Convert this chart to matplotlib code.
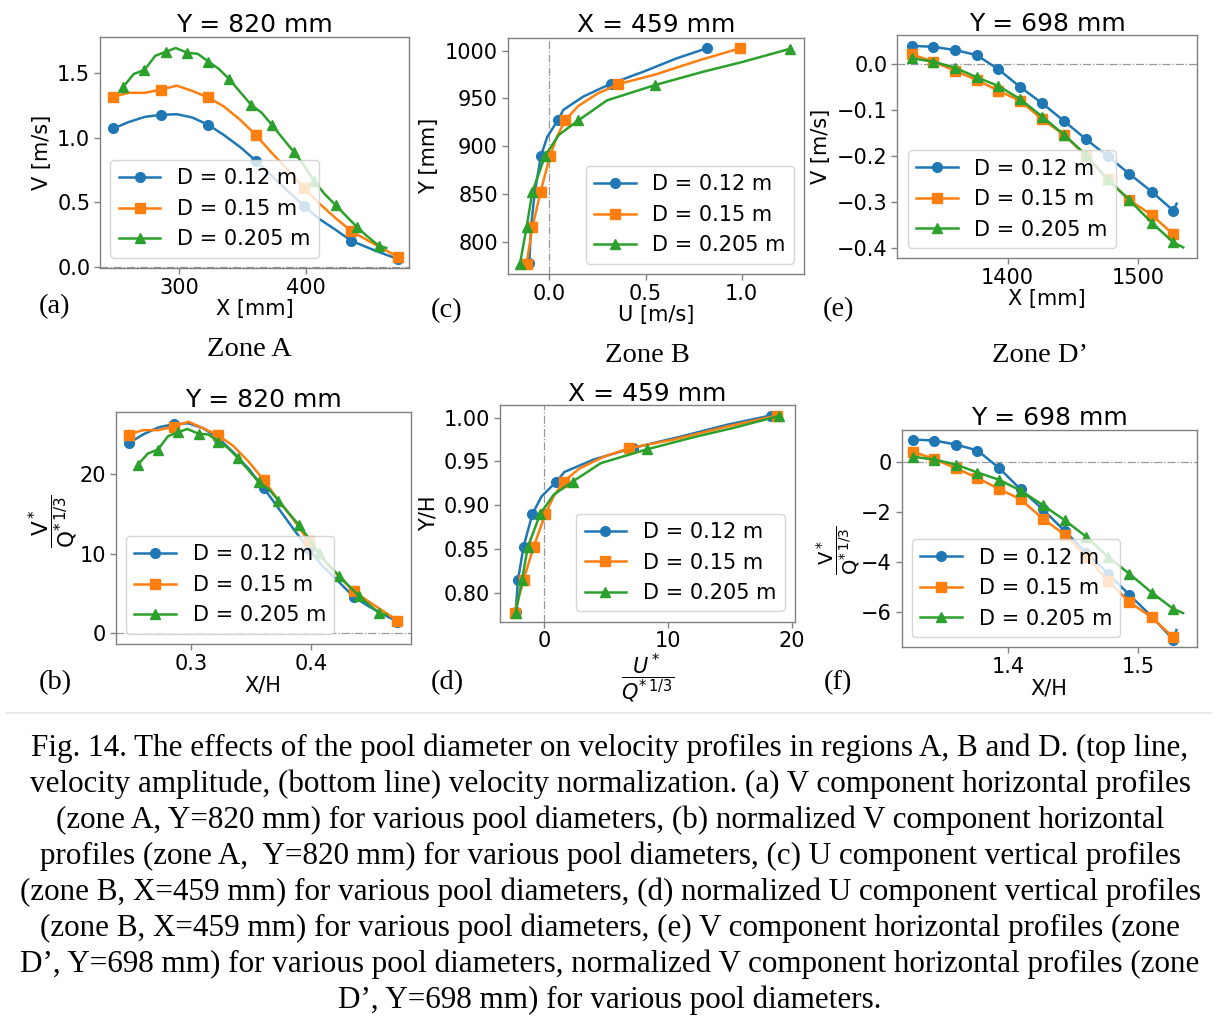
import matplotlib
matplotlib.use('Agg')
import matplotlib.pyplot as plt
from matplotlib.ticker import MultipleLocator, FuncFormatter

# ---------------- data ----------------
LABELS = ['D = 0.12 m', 'D = 0.15 m', 'D = 0.205 m']

# (a) V [m/s] vs X [mm], Y = 820 mm
A_X_BO = [248, 260, 273, 285.5, 298, 310, 322.5, 335, 348, 360.5, 373, 385, 398, 410, 423, 435.5, 448, 460, 472]
A_V_BLUE = [1.07, 1.12, 1.16, 1.175, 1.18, 1.155, 1.10, 1.02, 0.926, 0.82, 0.704, 0.592, 0.475, 0.375, 0.29, 0.205, 0.154, 0.108, 0.065]
A_V_ORANGE = [1.315, 1.345, 1.345, 1.37, 1.40, 1.36, 1.31, 1.24, 1.136, 1.018, 0.88, 0.757, 0.611, 0.495, 0.38, 0.28, 0.21, 0.146, 0.082]
A_BO_MARK = [0, 3, 6, 9, 12, 15, 18]
A_X_GREEN = [255.8, 264, 272.4, 281, 289.5, 297, 306.3, 314.5, 322.9, 331, 339.4, 348, 356.6, 365,
             372.9, 381, 390.0, 398, 406.3, 415, 423.4, 432, 440.0, 448, 457.1, 463]
A_V_GREEN = [1.392, 1.49, 1.521, 1.63, 1.662, 1.69, 1.654, 1.645, 1.585, 1.53, 1.449, 1.35, 1.252, 1.19,
             1.098, 1.0, 0.892, 0.79, 0.662, 0.56, 0.477, 0.39, 0.311, 0.24, 0.167, 0.15]
A_G_MARK = [0, 2, 4, 6, 8, 10, 12, 14, 16, 18, 20, 22, 24]

# (b) normalized V vs X/H
B_X_BO = [0.248, 0.260, 0.273, 0.2855, 0.298, 0.310, 0.3225, 0.335, 0.348, 0.3605, 0.373, 0.385, 0.398,
          0.410, 0.423, 0.4355, 0.448, 0.460, 0.472]
B_V_BLUE = [23.9, 25.0, 25.9, 26.3, 26.4, 25.8, 24.6, 22.8, 20.7, 18.3, 15.7, 13.2, 10.6, 8.4, 6.5, 4.6, 3.4, 2.4, 1.45]
B_V_ORANGE = [25.0, 25.55, 25.55, 26.0, 26.6, 25.8, 24.9, 23.6, 21.6, 19.3, 16.7, 14.4, 11.6, 9.4, 7.2, 5.3, 4.0, 2.8, 1.6]
B_X_GREEN = [0.2558, 0.264, 0.2724, 0.281, 0.2895, 0.297, 0.3063, 0.3145, 0.3229, 0.331, 0.3394, 0.348,
             0.3566, 0.365, 0.3729, 0.381, 0.390, 0.398, 0.4063, 0.415, 0.4234, 0.432, 0.440, 0.448, 0.4571, 0.463]
B_V_GREEN = [21.2, 22.6, 23.1, 24.8, 25.3, 25.7, 25.1, 25.0, 24.1, 23.3, 22.0, 20.5, 19.0, 18.1,
             16.7, 15.2, 13.6, 12.0, 10.1, 8.5, 7.25, 5.9, 4.7, 3.65, 2.5, 2.3]

# (c) Y [mm] vs U [m/s], X = 459 mm
C_U_BLUE = [-0.104, -0.095, -0.075, -0.043, -0.01, 0.044, 0.073, 0.177, 0.321, 0.489, 0.662, 0.818]
C_Y_BLUE = [777.5, 815, 852.5, 890, 910, 927, 938, 952, 965.5, 978, 992, 1002.5]
C_U_ORANGE = [-0.118, -0.088, -0.045, 0.004, 0.04, 0.082, 0.15, 0.25, 0.359, 0.55, 0.78, 0.991]
C_Y_ORANGE = [777, 815, 852.5, 890, 910, 927, 942, 955, 965, 975, 990, 1002.5]
C_U_GREEN = [-0.152, -0.118, -0.088, -0.022, 0.05, 0.151, 0.3, 0.549, 0.8, 1.0, 1.251]
C_Y_GREEN = [777, 815, 852, 890, 912, 927, 948, 964, 978, 988, 1002]
C_BO_MARK = [0, 1, 2, 3, 5, 8, 11]
C_G_MARK = [0, 1, 2, 3, 5, 7, 10]

# (d) Y/H vs normalized U
D_U_BLUE = [-2.32, -2.12, -1.68, -0.96, -0.22, 0.98, 1.63, 3.96, 7.17, 10.93, 14.8, 18.3]
D_Y_BLUE = [0.7775, 0.815, 0.8525, 0.890, 0.910, 0.927, 0.938, 0.952, 0.9655, 0.978, 0.992, 1.0025]
D_U_ORANGE = [-2.4, -1.67, -0.86, 0.08, 0.76, 1.56, 2.85, 4.75, 6.82, 10.45, 14.8, 18.83]
D_Y_ORANGE = [0.777, 0.815, 0.8525, 0.890, 0.910, 0.927, 0.942, 0.955, 0.965, 0.975, 0.990, 1.0025]
D_U_GREEN = [-2.31, -1.79, -1.34, -0.33, 0.76, 2.30, 4.56, 8.34, 12.16, 15.2, 19.0]
D_Y_GREEN = [0.777, 0.815, 0.852, 0.890, 0.912, 0.927, 0.948, 0.964, 0.978, 0.988, 1.002]

# (e) V [m/s] vs X [mm], Y = 698 mm
E_X = [1326.5, 1343.0, 1359.7, 1376.3, 1392.9, 1409.4, 1426.5, 1443.4, 1460.0, 1476.6, 1493.1, 1510.3, 1526.8]
E_X_BLUE = E_X + [1529.3]
E_V_BLUE = [0.040, 0.038, 0.031, 0.020, -0.011, -0.049, -0.085, -0.124, -0.163, -0.200, -0.238, -0.277, -0.318, -0.303]
E_V_ORANGE = [0.0217, 0.0057, -0.0139, -0.0341, -0.0574, -0.0791, -0.1196, -0.1537, -0.1993, -0.25, -0.295, -0.3276, -0.3696]
E_X_GREEN = E_X + [1534.4]
E_V_GREEN = [0.013, 0.0057, -0.0074, -0.0283, -0.0472, -0.0754, -0.1139, -0.1537, -0.1972, -0.25, -0.295, -0.3443, -0.387, -0.398]
E_MARK = list(range(13))

# (f) normalized V vs X/H
F_X = [1.3265, 1.3430, 1.3597, 1.3763, 1.3929, 1.4094, 1.4265, 1.4434, 1.4600, 1.4766, 1.4931, 1.5103, 1.5268]
F_X_BLUE = F_X + [1.5293]
F_V_BLUE = [0.89, 0.85, 0.69, 0.45, -0.25, -1.10, -1.90, -2.77, -3.64, -4.47, -5.32, -6.19, -7.11, -6.73]
F_V_ORANGE = [0.41, 0.11, -0.26, -0.65, -1.09, -1.50, -2.27, -2.92, -3.79, -4.75, -5.61, -6.22, -7.02]
F_X_GREEN = F_X + [1.5344]
F_V_GREEN = [0.20, 0.09, -0.11, -0.43, -0.72, -1.15, -1.73, -2.34, -3.0, -3.8, -4.48, -5.23, -5.88, -6.05]

CAPTION = [
    "Fig. 14. The effects of the pool diameter on velocity profiles in regions A, B and D. (top line,",
    "velocity amplitude, (bottom line) velocity normalization. (a) V component horizontal profiles",
    "(zone A, Y=820 mm) for various pool diameters, (b) normalized V component horizontal",
    "profiles (zone A,  Y=820 mm) for various pool diameters, (c) U component vertical profiles",
    "(zone B, X=459 mm) for various pool diameters, (d) normalized U component vertical profiles",
    "(zone B, X=459 mm) for various pool diameters, (e) V component horizontal profiles (zone",
    "D\u2019, Y=698 mm) for various pool diameters, normalized V component horizontal profiles (zone",
    "D\u2019, Y=698 mm) for various pool diameters.",
]

# ---------------- figure ----------------
W, H = 1217, 1026
fig = plt.figure(figsize=(W / 100, H / 100), dpi=100)
BLUE, ORANGE, GREEN = '#1f77b4', '#ff7f0e', '#2ca02c'
FS = 15
SERIF = 'Liberation Serif'


def fmt(spec):
    return FuncFormatter(lambda v, p: (spec % v).replace('-', '\u2212') if abs(v) > 1e-9 else spec % 0)


def add_ax(l, t, r, b):
    ax = fig.add_axes([l / W, 1 - b / H, (r - l) / W, (b - t) / H])
    for sp in ax.spines.values():
        sp.set_color('#808080')
        sp.set_linewidth(1.0)
    ax.tick_params(labelsize=FS, length=4, width=1, color='#808080', pad=3)
    return ax


def series(ax, x, y, color, marker, mark, label, ms):
    ax.plot(x, y, color=color, marker=marker, markevery=mark, lw=1.8, ms=ms, label=label)


def fig_text(x, y, s, **kw):
    fig.text(x / W, 1 - y / H, s, **kw)


FRAC_V = r'$\dfrac{\mathrm{V}^*}{\mathrm{Q}^{*\,1/3}}$'
FRAC_U = r'$\dfrac{U^*}{Q^{*\,1/3}}$'

# (a)
ax = add_ax(100, 37, 409, 268)
ax.axhline(0, color='#999999', ls='-.', lw=0.9, zorder=0)
series(ax, A_X_BO, A_V_BLUE, BLUE, 'o', A_BO_MARK, LABELS[0], 7)
series(ax, A_X_BO, A_V_ORANGE, ORANGE, 's', A_BO_MARK, LABELS[1], 7)
series(ax, A_X_GREEN, A_V_GREEN, GREEN, '^', A_G_MARK, LABELS[2], 7)
ax.set_xlim(237.4, 481)
ax.set_ylim(-0.005, 1.775)
ax.xaxis.set_major_locator(MultipleLocator(100))
ax.yaxis.set_major_locator(MultipleLocator(0.5))
ax.yaxis.set_major_formatter(fmt('%.1f'))
ax.set_xlabel('X [mm]', fontsize=FS, labelpad=1)
ax.set_ylabel('V [m/s]', fontsize=FS)
ax.legend(loc='lower left', fontsize=FS)
fig_text(254.5, 32, 'Y = 820 mm', fontsize=18, ha='center', va='baseline')

# (c)
ax = add_ax(507.7, 37.7, 804.3, 274)
ax.axvline(0, color='#999999', ls='-.', lw=0.9, zorder=0)
series(ax, C_U_BLUE, C_Y_BLUE, BLUE, 'o', C_BO_MARK, LABELS[0], 7)
series(ax, C_U_ORANGE, C_Y_ORANGE, ORANGE, 's', C_BO_MARK, LABELS[1], 7)
series(ax, C_U_GREEN, C_Y_GREEN, GREEN, '^', C_G_MARK, LABELS[2], 7)
ax.set_xlim(-0.216, 1.325)
ax.set_ylim(766.2, 1013.6)
ax.xaxis.set_major_locator(MultipleLocator(0.5))
ax.xaxis.set_major_formatter(fmt('%.1f'))
ax.yaxis.set_major_locator(MultipleLocator(50))
ax.set_xlabel('U [m/s]', fontsize=FS, labelpad=1)
ax.set_ylabel('Y [mm]', fontsize=FS)
ax.legend(loc='lower right', fontsize=FS)
fig_text(656, 32, 'X = 459 mm', fontsize=18, ha='center', va='baseline')

# (e)
ax = add_ax(897.3, 35.3, 1196.7, 258.3)
ax.axhline(0, color='#999999', ls='-.', lw=0.9, zorder=0)
series(ax, E_X_BLUE, E_V_BLUE, BLUE, 'o', E_MARK, LABELS[0], 7)
series(ax, E_X, E_V_ORANGE, ORANGE, 's', E_MARK, LABELS[1], 7)
series(ax, E_X_GREEN, E_V_GREEN, GREEN, '^', E_MARK, LABELS[2], 7)
ax.set_xlim(1315.5, 1544.7)
ax.set_ylim(-0.4217, 0.063)
ax.xaxis.set_major_locator(MultipleLocator(100))
ax.yaxis.set_major_locator(MultipleLocator(0.1))
ax.yaxis.set_major_formatter(fmt('%.1f'))
ax.set_xlabel('X [mm]', fontsize=FS, labelpad=1)
ax.set_ylabel('V [m/s]', fontsize=FS)
ax.legend(loc='lower left', fontsize=FS)
fig_text(1047, 31, 'Y = 698 mm', fontsize=18, ha='center', va='baseline')

# (b)
ax = add_ax(115.7, 411.7, 410.7, 644)
ax.axhline(0, color='#999999', ls='-.', lw=0.9, zorder=0)
series(ax, B_X_BO, B_V_BLUE, BLUE, 'o', A_BO_MARK, LABELS[0], 7)
series(ax, B_X_BO, B_V_ORANGE, ORANGE, 's', A_BO_MARK, LABELS[1], 7)
series(ax, B_X_GREEN, B_V_GREEN, GREEN, '^', A_G_MARK, LABELS[2], 7)
ax.set_xlim(0.2373, 0.4831)
ax.set_ylim(-1.35, 27.87)
ax.xaxis.set_major_locator(MultipleLocator(0.1))
ax.xaxis.set_major_formatter(fmt('%.1f'))
ax.yaxis.set_major_locator(MultipleLocator(10))
ax.set_xlabel('X/H', fontsize=FS, labelpad=1)
ax.set_ylabel(FRAC_V, fontsize=15.5)
ax.yaxis.set_label_coords((80 - 115.7) / 295, 0.53)
ax.legend(loc='lower left', fontsize=FS)
fig_text(263, 407, 'Y = 820 mm', fontsize=18, ha='center', va='baseline')

# (d)
ax = add_ax(500, 405, 795, 621.7)
ax.axvline(0, color='#999999', ls='-.', lw=0.9, zorder=0)
series(ax, D_U_BLUE, D_Y_BLUE, BLUE, 'o', C_BO_MARK, LABELS[0], 7)
series(ax, D_U_ORANGE, D_Y_ORANGE, ORANGE, 's', C_BO_MARK, LABELS[1], 7)
series(ax, D_U_GREEN, D_Y_GREEN, GREEN, '^', C_G_MARK, LABELS[2], 7)
ax.set_xlim(-3.58, 20.27)
ax.set_ylim(0.7669, 1.0145)
ax.xaxis.set_major_locator(MultipleLocator(10))
ax.yaxis.set_major_locator(MultipleLocator(0.05))
ax.yaxis.set_major_formatter(fmt('%.2f'))
ax.set_xlabel(FRAC_U, fontsize=15)
ax.xaxis.set_label_coords((647.5 - 500) / 295, -(652 - 621.7) / 216.7)
ax.set_ylabel('Y/H', fontsize=FS)
ax.legend(loc='lower right', fontsize=FS)
fig_text(647.5, 401, 'X = 459 mm', fontsize=18, ha='center', va='baseline')

# (f)
ax = add_ax(901.7, 430, 1196.7, 647.3)
ax.axhline(0, color='#999999', ls='-.', lw=0.9, zorder=0)
series(ax, F_X_BLUE, F_V_BLUE, BLUE, 'o', E_MARK, LABELS[0], 7)
series(ax, F_X, F_V_ORANGE, ORANGE, 's', E_MARK, LABELS[1], 7)
series(ax, F_X_GREEN, F_V_GREEN, GREEN, '^', E_MARK, LABELS[2], 7)
ax.set_xlim(1.318, 1.5449)
ax.set_ylim(-7.42, 1.27)
ax.xaxis.set_major_locator(MultipleLocator(0.1))
ax.xaxis.set_major_formatter(fmt('%.1f'))
ax.yaxis.set_major_locator(MultipleLocator(2))
ax.set_xlabel('X/H', fontsize=FS, labelpad=1)
ax.set_ylabel(FRAC_V, fontsize=14)
ax.yaxis.set_label_coords((862 - 901.7) / 295, 0.445)
ax.legend(loc='lower left', fontsize=FS)
fig_text(1049, 425, 'Y = 698 mm', fontsize=18, ha='center', va='baseline')

# panel letters and zone labels
for (px, py, s) in [(55, 307, '(a)'), (447, 311, '(c)'), (838, 310, '(e)'),
                    (55, 683, '(b)'), (447, 683, '(d)'), (838, 683, '(f)')]:
    fig_text(px, py, s, fontsize=20.5, family=SERIF, ha='center', va='center')
for (px, py, s) in [(249, 350, 'Zone A'), (647, 355, 'Zone B'), (1040, 355, 'Zone D\u2019')]:
    fig_text(px, py, s, fontsize=20.5, family=SERIF, ha='center', va='center')

# separator line
fig.add_artist(plt.Line2D([0.005, 0.995], [1 - 713 / H, 1 - 713 / H], color='#e6e6e6', lw=1.2))

# caption
for i, line in enumerate(CAPTION):
    fig_text(610, 748 + 36 * i, line, fontsize=22.4, family=SERIF, ha='center', va='center')

fig.savefig('out.png', dpi=100)
